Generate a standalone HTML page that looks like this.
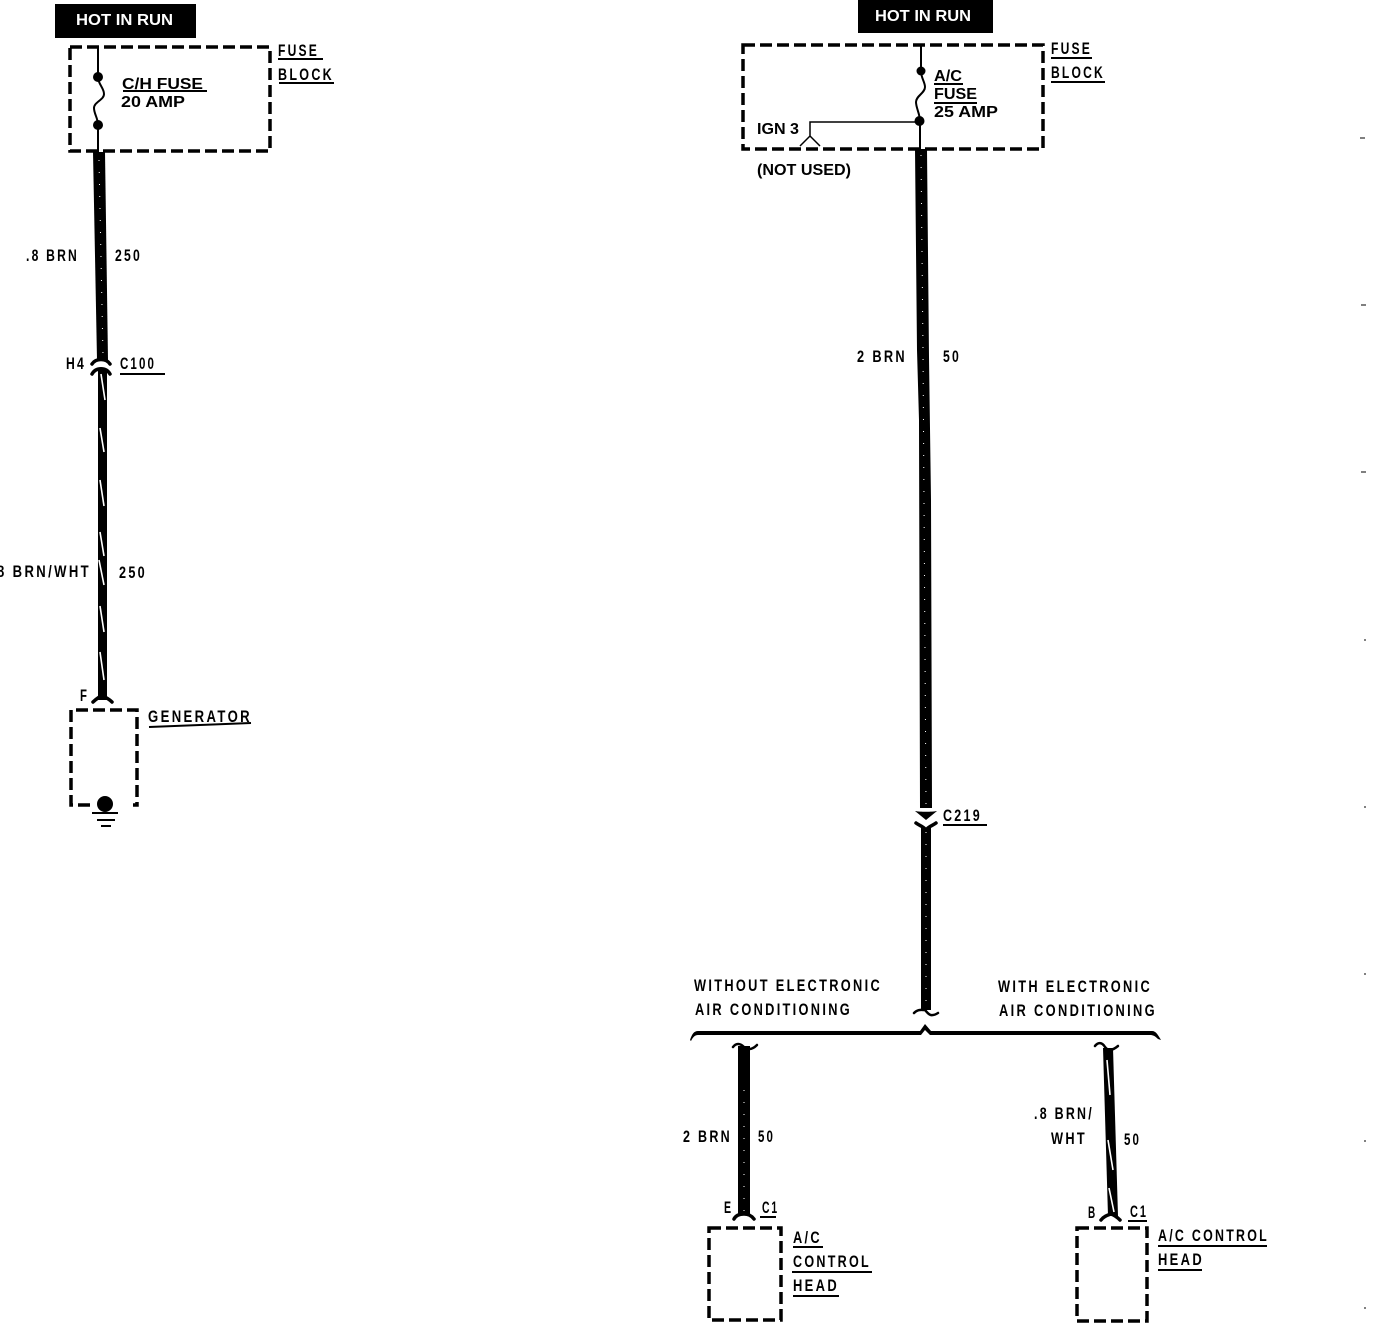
<!DOCTYPE html>
<html><head><meta charset="utf-8"><style>
html,body{margin:0;padding:0;background:#fff;width:1376px;height:1326px;overflow:hidden}
svg{display:block}
text{font-family:"Liberation Sans",sans-serif;font-weight:bold;font-size:16px;fill:#000}
.n{font-size:16.500px;font-weight:bold;letter-spacing:3px}
.h{fill:#fff;font-size:16px;font-weight:bold}
.d{fill:none;stroke:#000;stroke-width:3.5;stroke-dasharray:12 5}
.l{fill:none;stroke:#000;stroke-width:1.5}
.u{fill:none;stroke:#000;stroke-width:2}
.f{fill:none;stroke:#000;stroke-width:3.500;stroke-linecap:round}
.w{fill:none;stroke:#fff;stroke-width:1.6}
.s{fill:none;stroke:#fff;stroke-width:1;stroke-dasharray:1 11}
</style></head><body>
<svg width="1376" height="1326" viewBox="0 0 1376 1326" xmlns="http://www.w3.org/2000/svg">
<!-- left diagram -->
<rect x="55" y="4" width="141" height="34" fill="#000"/>
<text class="h" x="76" y="25" textLength="97" lengthAdjust="spacingAndGlyphs">HOT IN RUN</text>
<rect class="d" x="70" y="47" width="200" height="104"/>
<path class="l" d="M98 47V77C98 84 104 88 104 94C104 100 94 102 94 108C94 114 98 118 98 125V152" style="stroke-width:2"/>
<circle cx="98" cy="77" r="5"/><circle cx="98" cy="125" r="5"/>
<text class="n" x="278" y="56" textLength="41" lengthAdjust="spacingAndGlyphs">FUSE</text><path class="u" d="M278 59H323"/>
<text class="n" x="278" y="80" textLength="56" lengthAdjust="spacingAndGlyphs">BLOCK</text><path class="u" d="M279 83H334"/>
<text x="122" y="89" textLength="81" lengthAdjust="spacingAndGlyphs">C/H  FUSE</text><path class="u" d="M123 91H207"/>
<text x="121" y="107" textLength="64" lengthAdjust="spacingAndGlyphs">20  AMP</text>
<path d="M93 152H105L108 360H97Z"/>
<path class="s" d="M99 160L103 355"/>
<text class="n" x="26" y="261" textLength="53" lengthAdjust="spacingAndGlyphs">.8 BRN</text>
<text class="n" x="115" y="261" textLength="27" lengthAdjust="spacingAndGlyphs">250</text>
<text class="n" x="66" y="369" textLength="20" lengthAdjust="spacingAndGlyphs">H4</text>
<text class="n" x="120" y="369" textLength="36" lengthAdjust="spacingAndGlyphs">C100</text><path class="u" d="M120 374H165"/>
<path class="f" d="M92 364C96 358 106 358 110 364"/>
<path class="f" d="M92 374C96 367 106 367 110 374"/>
<path d="M98 370H107V700H98Z"/>
<path class="w" d="M101 374L105 400M100 428L104 452M100 480L104 506M100 532L104 556M99 560L104 585M100 606L104 632M100 652L104 680"/>
<text class="n" x="-3" y="577" textLength="94" lengthAdjust="spacingAndGlyphs">8 BRN/WHT</text>
<text class="n" x="119" y="578" textLength="28" lengthAdjust="spacingAndGlyphs">250</text>
<text class="n" x="80" y="701" textLength="9" lengthAdjust="spacingAndGlyphs">F</text>
<path class="f" d="M93 702C97 698 100 697 102 695C104 697 108 698 112 702"/>
<path class="d" d="M90 805H71V710H137V805H133"/>
<text class="n" x="148" y="722" textLength="104" lengthAdjust="spacingAndGlyphs">GENERATOR</text><path class="u" d="M149 727L251 723"/>
<circle cx="105" cy="804" r="8"/>
<path class="u" d="M92 813H118M97 820H115M101 826H111"/>
<!-- right diagram -->
<rect x="858" y="0" width="135" height="33" fill="#000"/>
<text class="h" x="875" y="21" textLength="96" lengthAdjust="spacingAndGlyphs">HOT IN RUN</text>
<rect class="d" x="743" y="45" width="300" height="104"/>
<path class="l" d="M921 44V71C921 78 925 82 925 87C925 93 916 96 916 102C916 108 920 114 920 121V150" style="stroke-width:2"/>
<circle cx="921" cy="71" r="4.5"/><circle cx="919.500" cy="121" r="5"/>
<path class="l" d="M919 122H810V136M800 146L810 136L820 146"/>
<text class="n" x="1051" y="54" textLength="41" lengthAdjust="spacingAndGlyphs">FUSE</text><path class="u" d="M1051 58H1092"/>
<text class="n" x="1051" y="78" textLength="54" lengthAdjust="spacingAndGlyphs">BLOCK</text><path class="u" d="M1051 82H1105"/>
<text x="934" y="81" textLength="28" lengthAdjust="spacingAndGlyphs">A/C</text><path class="u" d="M934 84H963"/>
<text x="934" y="99" textLength="43" lengthAdjust="spacingAndGlyphs">FUSE</text><path class="u" d="M934 103H977"/>
<text x="934" y="117" textLength="64" lengthAdjust="spacingAndGlyphs">25  AMP</text>
<text x="757" y="134" textLength="42" lengthAdjust="spacingAndGlyphs">IGN  3</text>
<text x="757" y="175" textLength="94" lengthAdjust="spacingAndGlyphs">(NOT USED)</text>
<path d="M915 149H927L929 357L931 500L932 808H920L919 420L917 350Z"/>
<path class="s" d="M921 155L923 350L926 805"/>
<text class="n" x="857" y="362" textLength="50" lengthAdjust="spacingAndGlyphs">2 BRN</text>
<text class="n" x="943" y="362" textLength="18" lengthAdjust="spacingAndGlyphs">50</text>
<path d="M915 811C920 812 932 812 937 811L926 820Z"/>
<path class="f" d="M916 823C920 826 923 826 926 830C929 826 932 826 936 823"/>
<text class="n" x="943" y="821" textLength="39" lengthAdjust="spacingAndGlyphs">C219</text><path class="u" d="M943 825H987"/>
<path d="M921 828H931V1010H921Z"/>
<path class="s" d="M926 832V1008"/>
<path class="f" d="M914 1013C918 1009 921 1010 925 1010C928 1013 930 1018 938 1013" style="stroke-width:2.500"/>
<text class="n" x="694" y="991" textLength="188" lengthAdjust="spacingAndGlyphs">WITHOUT ELECTRONIC</text>
<text class="n" x="695" y="1015" textLength="157" lengthAdjust="spacingAndGlyphs">AIR CONDITIONING</text>
<text class="n" x="998" y="992" textLength="154" lengthAdjust="spacingAndGlyphs">WITH ELECTRONIC</text>
<text class="n" x="999" y="1016" textLength="158" lengthAdjust="spacingAndGlyphs">AIR CONDITIONING</text>
<path d="M690 1040C692 1034 694 1031 698 1031H920L925 1024L931 1031H1152C1156 1031 1158 1035 1161 1040L1158 1039C1155 1036 1153 1035 1150 1035H930L925 1030L921 1035H698C695 1035 693 1037 691 1041Z"/>
<!-- left branch -->
<path class="f" d="M733 1047C736 1043 740 1043 744 1047C748 1050 752 1050 757 1045" style="stroke-width:2.500"/>
<path d="M738 1046H750V1215H738Z"/>
<path class="s" d="M744 1090V1212"/>
<text class="n" x="683" y="1142" textLength="49" lengthAdjust="spacingAndGlyphs">2 BRN</text>
<text class="n" x="758" y="1142" textLength="17" lengthAdjust="spacingAndGlyphs">50</text>
<text class="n" x="724" y="1213" textLength="9" lengthAdjust="spacingAndGlyphs">E</text>
<text class="n" x="762" y="1213" textLength="17" lengthAdjust="spacingAndGlyphs">C1</text><path class="u" d="M760 1217H776"/>
<path class="f" d="M734 1219C736 1215 740 1214 744 1214C748 1214 751 1215 754 1219"/>
<rect class="d" x="709" y="1228" width="72" height="92"/>
<text class="n" x="793" y="1243" textLength="29" lengthAdjust="spacingAndGlyphs">A/C</text><path class="u" d="M793 1247H823"/>
<text class="n" x="793" y="1267" textLength="78" lengthAdjust="spacingAndGlyphs">CONTROL</text><path class="u" d="M792 1272H872"/>
<text class="n" x="793" y="1291" textLength="46" lengthAdjust="spacingAndGlyphs">HEAD</text><path class="u" d="M793 1296H839"/>
<!-- right branch -->
<path class="f" d="M1095 1046C1098 1042 1102 1042 1105 1047C1108 1051 1112 1051 1118 1046" style="stroke-width:2.500"/>
<path d="M1103 1048H1113L1118 1216H1108Z"/>
<path class="w" d="M1107 1060L1110 1095M1108 1140L1113 1170M1109 1188L1114 1212"/>
<text class="n" x="1034" y="1119" textLength="60" lengthAdjust="spacingAndGlyphs">.8 BRN/</text>
<text class="n" x="1051" y="1144" textLength="36" lengthAdjust="spacingAndGlyphs">WHT</text>
<text class="n" x="1124" y="1145" textLength="17" lengthAdjust="spacingAndGlyphs">50</text>
<text class="n" x="1088" y="1218" textLength="9" lengthAdjust="spacingAndGlyphs">B</text>
<text class="n" x="1130" y="1217" textLength="18" lengthAdjust="spacingAndGlyphs">C1</text><path class="u" d="M1128 1221H1147"/>
<path class="f" d="M1101 1220C1104 1216 1108 1215 1111 1214C1114 1215 1117 1217 1120 1220"/>
<rect class="d" x="1077" y="1228" width="70" height="93"/>
<text class="n" x="1158" y="1241" textLength="111" lengthAdjust="spacingAndGlyphs">A/C CONTROL</text><path class="u" d="M1158 1246H1267"/>
<text class="n" x="1158" y="1265" textLength="46" lengthAdjust="spacingAndGlyphs">HEAD</text><path class="u" d="M1158 1270H1202"/>
<!-- margin ticks -->
<path class="l" style="stroke-width:1" d="M1360 138H1365M1361 305H1366M1361 472H1366M1364 640H1366M1364 807H1366M1364 974H1366M1364 1141H1366M1364 1308H1366"/>
</svg>
</body></html>
